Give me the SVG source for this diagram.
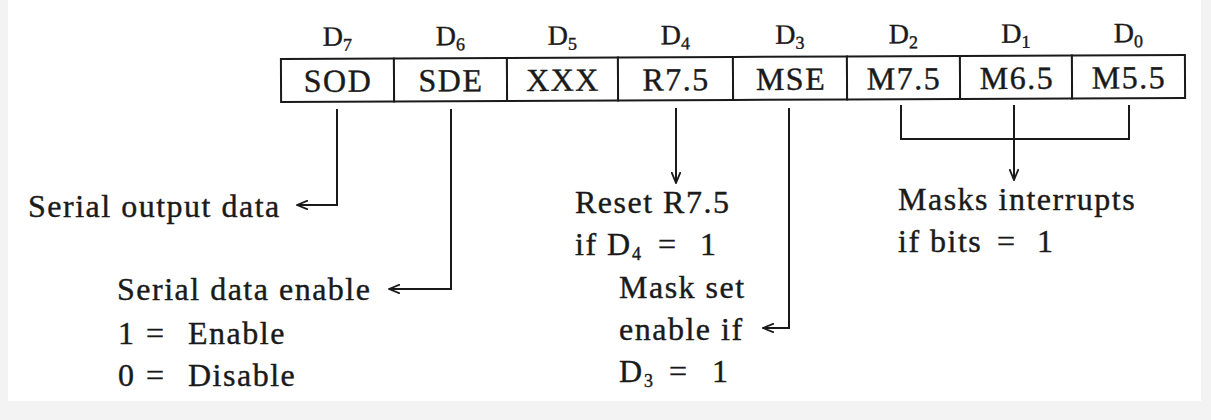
<svg xmlns="http://www.w3.org/2000/svg" width="1211" height="420" viewBox="0 0 1211 420">
  <style>
    .t { font-family: "Liberation Serif", "Times New Roman", serif; font-size: 32px; fill: #1a1a1a; stroke: #1a1a1a; stroke-width: 0.4px; letter-spacing: 1.5px; }
    .d { font-size: 28px; letter-spacing: 0; }
    .sub { font-size: 18px; letter-spacing: 0; }
    .ln { stroke: #1a1a1a; stroke-width: 2; fill: none; }
    .box { stroke: #1a1a1a; stroke-width: 2; fill: #ffffff; }
  </style>
  <defs>
    <marker id="ah" viewBox="0 0 12 10" refX="11" refY="5" markerWidth="12" markerHeight="10" markerUnits="userSpaceOnUse" orient="auto">
      <path d="M0,0.5 L11,5 L0,9.5" fill="none" stroke="#1a1a1a" stroke-width="1.8"/>
    </marker>
  </defs>

  <rect x="0" y="0" width="1211" height="420" fill="#f3f3f3"/>
  <rect x="8" y="0" width="1193" height="401" fill="#ffffff"/>

  <g id="register" transform="rotate(-0.25 733 78)">
    <g id="bit-labels" class="t d" text-anchor="middle">
      <text x="337.5" y="44">D<tspan class="sub" dy="5">7</tspan></text>
      <text x="450.5" y="44">D<tspan class="sub" dy="5">6</tspan></text>
      <text x="562.5" y="44">D<tspan class="sub" dy="5">5</tspan></text>
      <text x="675.5" y="44">D<tspan class="sub" dy="5">4</tspan></text>
      <text x="790" y="44">D<tspan class="sub" dy="5">3</tspan></text>
      <text x="903.5" y="44">D<tspan class="sub" dy="5">2</tspan></text>
      <text x="1016" y="44">D<tspan class="sub" dy="5">1</tspan></text>
      <text x="1128.5" y="44">D<tspan class="sub" dy="5">0</tspan></text>
    </g>
    <g id="cell-SOD"><rect class="box" x="281" y="57" width="113" height="43"/><text class="t" x="338" y="90" text-anchor="middle">SOD</text></g>
    <g id="cell-SDE"><rect class="box" x="394" y="57" width="113" height="43"/><text class="t" x="451" y="90" text-anchor="middle">SDE</text></g>
    <g id="cell-XXX"><rect class="box" x="507" y="57" width="111" height="43"/><text class="t" x="563" y="90" text-anchor="middle">XXX</text></g>
    <g id="cell-R75"><rect class="box" x="618" y="57" width="115" height="43"/><text class="t" x="676" y="90" text-anchor="middle">R7.5</text></g>
    <g id="cell-MSE"><rect class="box" x="733" y="57" width="114" height="43"/><text class="t" x="791" y="90" text-anchor="middle">MSE</text></g>
    <g id="cell-M75"><rect class="box" x="847" y="57" width="113" height="43"/><text class="t" x="904" y="90" text-anchor="middle">M7.5</text></g>
    <g id="cell-M65"><rect class="box" x="960" y="57" width="112" height="43"/><text class="t" x="1017" y="90" text-anchor="middle">M6.5</text></g>
    <g id="cell-M55"><rect class="box" x="1072" y="57" width="113" height="43"/><text class="t" x="1129" y="90" text-anchor="middle">M5.5</text></g>
  </g>

  <g id="connectors">
    <path class="ln" d="M337,109 V205 H297" marker-end="url(#ah)"/>
    <path class="ln" d="M451,109 V289 H389" marker-end="url(#ah)"/>
    <path class="ln" d="M676,108 V183" marker-end="url(#ah)"/>
    <path class="ln" d="M789,108 V328 H763" marker-end="url(#ah)"/>
    <path class="ln" d="M901,105 V139 M1014,105 V139 M1129,105 V139 M900,139 H1130"/>
    <path class="ln" d="M1014,139 V180" marker-end="url(#ah)"/>
  </g>

  <g id="label-SOD">
    <text class="t" x="28" y="217">Serial output data</text>
  </g>
  <g id="label-SDE">
    <text class="t" x="117" y="300">Serial data enable</text>
    <text class="t" y="344"><tspan x="118">1</tspan><tspan x="146">=</tspan><tspan x="188">Enable</tspan></text>
    <text class="t" y="386"><tspan x="118">0</tspan><tspan x="146">=</tspan><tspan x="188">Disable</tspan></text>
  </g>
  <g id="label-R75">
    <text class="t" x="575" y="213">Reset R7.5</text>
    <text class="t" y="255"><tspan x="575">if</tspan><tspan x="607">D</tspan><tspan class="sub" x="632" dy="5">4</tspan><tspan x="658" dy="-5">=</tspan><tspan x="700">1</tspan></text>
  </g>
  <g id="label-MSE">
    <text class="t" x="619" y="298">Mask set</text>
    <text class="t" x="619" y="340">enable if</text>
    <text class="t" y="382"><tspan x="619">D</tspan><tspan class="sub" x="644" dy="5">3</tspan><tspan x="669" dy="-5">=</tspan><tspan x="712">1</tspan></text>
  </g>
  <g id="label-masks">
    <text class="t" x="898" y="210">Masks interrupts</text>
    <text class="t" y="252"><tspan x="898">if bits</tspan><tspan x="997">=</tspan><tspan x="1037">1</tspan></text>
  </g>
</svg>
